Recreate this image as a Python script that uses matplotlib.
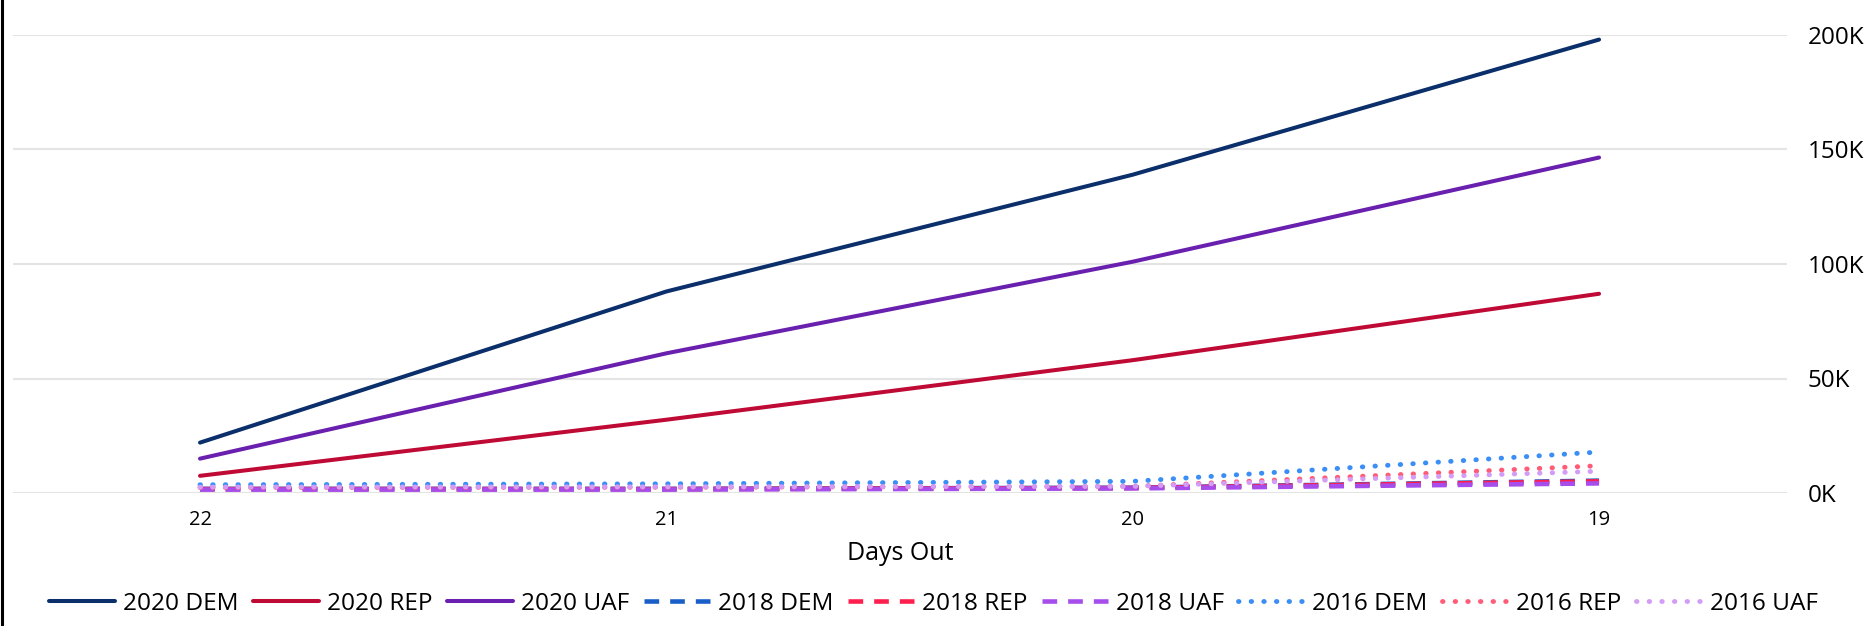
import matplotlib
matplotlib.use("Agg")
import matplotlib.pyplot as plt
from matplotlib.lines import Line2D

plt.rcParams['font.family'] = ['Open Sans', 'DejaVu Sans']

days = ['22', '21', '20', '19']
y_ticks = [0, 50000, 100000, 150000, 200000]
y_tick_labels = ['0K', '50K', '100K', '150K', '200K']

dem_2020 = [22000, 88000, 139000, 198000]
rep_2020 = [7500, 32000, 58000, 87000]
uaf_2020 = [15000, 61000, 101000, 146500]
dem_2018 = [1800, 1800, 2300, 5400]
rep_2018 = [1700, 1700, 2200, 5100]
uaf_2018 = [1500, 1500, 2000, 4200]
dem_2016 = [3600, 4000, 5100, 17900]
rep_2016 = [2400, 2500, 2900, 11900]
uaf_2016 = [2600, 2700, 2900, 9500]

series = [
    ('2020 DEM', dem_2020, '#0B2F6B', 'solid'),
    ('2020 REP', rep_2020, '#BE0A34', 'solid'),
    ('2020 UAF', uaf_2020, '#6A20AE', 'solid'),
    ('2018 DEM', dem_2018, '#1A5FC9', 'dash'),
    ('2018 REP', rep_2018, '#FF1F4E', 'dash'),
    ('2018 UAF', uaf_2018, '#A64DEB', 'dash'),
    ('2016 DEM', dem_2016, '#3A8EF6', 'dot'),
    ('2016 REP', rep_2016, '#FF5C78', 'dot'),
    ('2016 UAF', uaf_2016, '#D39CF6', 'dot'),
]

fig = plt.figure(figsize=(18.71, 6.26), dpi=100)
ax = fig.add_axes([13/1871, 1-493/626, (1787-13)/1871, (493-35)/626])

x = list(range(len(days)))
for name, vals, col, style in series:
    if style == 'solid':
        ax.plot(x, vals, color=col, lw=2.9, label=name, solid_capstyle='round', clip_on=False)
    elif style == 'dash':
        ax.plot(x, vals, color=col, lw=3.3, linestyle=(0, (3.2, 2.4)), label=name,
                dash_capstyle='butt', clip_on=False)
    else:
        ax.plot(x, vals, color=col, lw=3.5, linestyle=(0, (0.1, 2.5)), label=name,
                dash_capstyle='round', clip_on=False)

ax.set_xlim(-0.401, 3.403)
ax.set_ylim(0, 200000)
ax.set_xticks(x)
ax.set_xticklabels(days, fontsize=14.5)
ax.set_yticks(y_ticks)
ax.set_yticklabels(y_tick_labels, fontsize=17.5)
ax.yaxis.tick_right()
ax.tick_params(axis='y', length=0, pad=15)
ax.tick_params(axis='x', length=0, pad=12)
ax.grid(axis='y', color='#E4E4E4', lw=1.5)
ax.set_axisbelow(True)
for s in ax.spines.values():
    s.set_visible(False)
ax.set_xlabel('Days Out', fontsize=18, labelpad=8)

ax.legend(loc='center', bbox_to_anchor=(933.5/1871, 1-604/626), bbox_transform=fig.transFigure,
          ncol=9, frameon=False, fontsize=17.6, handlelength=2.7, handletextpad=0.32,
          columnspacing=0.6, borderpad=0, borderaxespad=0)

fig.add_artist(Line2D([0.0009, 0.0009], [0, 1], transform=fig.transFigure, color='black', lw=2.2))

fig.savefig('out.png', dpi=100)
